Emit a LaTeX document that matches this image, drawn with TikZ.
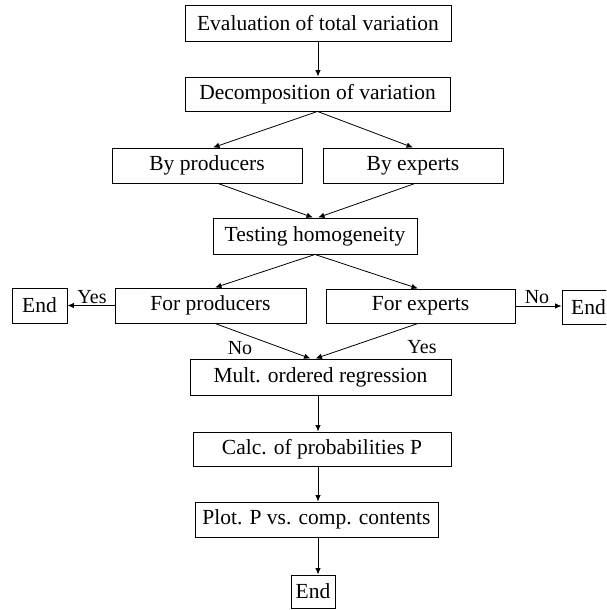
\documentclass[tikz,border=0pt]{standalone}
\usepackage{fontspec}
\setmainfont{Liberation Serif}
\usetikzlibrary{arrows.meta}
\begin{document}
\begin{tikzpicture}[x=1pt,y=-1pt,
  box/.style={draw,line width=0.9pt,inner sep=0pt,font=\fontsize{21.5}{23}\selectfont},
  arr/.style={line width=0.8pt,-{Latex[length=6.5pt,width=5.5pt]}},
  lab/.style={font=\fontsize{20}{22}\selectfont,inner sep=0pt}]
\useasboundingbox (0,0) rectangle (606,610);
\clip (0,0) rectangle (606,610);
\node[box,minimum width=266pt,minimum height=36pt] (eval) at (318,23) {Evaluation of total variation};
\node[box,minimum width=265pt,minimum height=34pt] (decomp) at (317.5,94) {Decomposition of variation};
\node[box,minimum width=190pt,minimum height=35pt] (byprod) at (207,165.5) {By producers};
\node[box,minimum width=180pt,minimum height=35pt] (byexp) at (413,165.5) {By experts};
\node[box,minimum width=204pt,minimum height=36pt] (test) at (315,236) {Testing homogeneity};
\node[box,minimum width=191pt,minimum height=35pt] (forprod) at (210.5,305.5) {For producers};
\node[box,minimum width=55pt,minimum height=35pt] (endL) at (39.5,305.5) {End};
\node[box,minimum width=189pt,minimum height=34pt] (forexp) at (420.5,306) {For experts};
\node[box,minimum width=53pt,minimum height=34pt] (endR) at (588.5,307) {End};
\node[box,minimum width=261pt,minimum height=36pt] (mult) at (320.5,377) {Mult. ordered regression};
\node[box,minimum width=258pt,minimum height=34pt] (calc) at (322,449) {Calc. of probabilities P};
\node[box,minimum width=243pt,minimum height=35pt] (plot) at (316.5,519.5) {Plot. P vs. comp. contents};
\node[box,minimum width=44pt,minimum height=33pt] (endB) at (313,591.5) {End};

\node[lab] (yesL) at (92,297) {Yes};
\node[lab] (noL) at (240,348) {No};
\node[lab] (noR) at (537,297) {No};
\node[lab] (yesR) at (422,347) {Yes};

\draw[arr] (eval.south) -- (decomp.north -| eval.south);
\draw[arr] (decomp.south) -- ([xshift=6pt]byprod.north);
\draw[arr] (decomp.south) -- (byexp.north);
\draw[arr] ([xshift=11pt]byprod.south) -- ([xshift=-2pt]test.north);
\draw[arr] ([xshift=2pt]byexp.south) -- ([xshift=3pt]test.north);
\draw[arr] (test.south) -- ([xshift=4.5pt]forprod.north);
\draw[arr] (test.south) -- ([xshift=-2.5pt]forexp.north);
\draw[arr] (forprod.west) -- (endL.east);
\draw[arr] (forexp.east) -- (forexp.east -| endR.west);
\draw[arr] ([xshift=4.5pt]forprod.south) -- ([xshift=-10pt]mult.north);
\draw[arr] ([xshift=-2.5pt]forexp.south) -- ([xshift=-5pt]mult.north);
\draw[arr] (mult.south -| eval.south) -- (calc.north -| eval.south);
\draw[arr] (calc.south -| eval.south) -- (plot.north -| eval.south);
\draw[arr] (plot.south -| eval.south) -- (endB.north -| eval.south);
\end{tikzpicture}
\end{document}
